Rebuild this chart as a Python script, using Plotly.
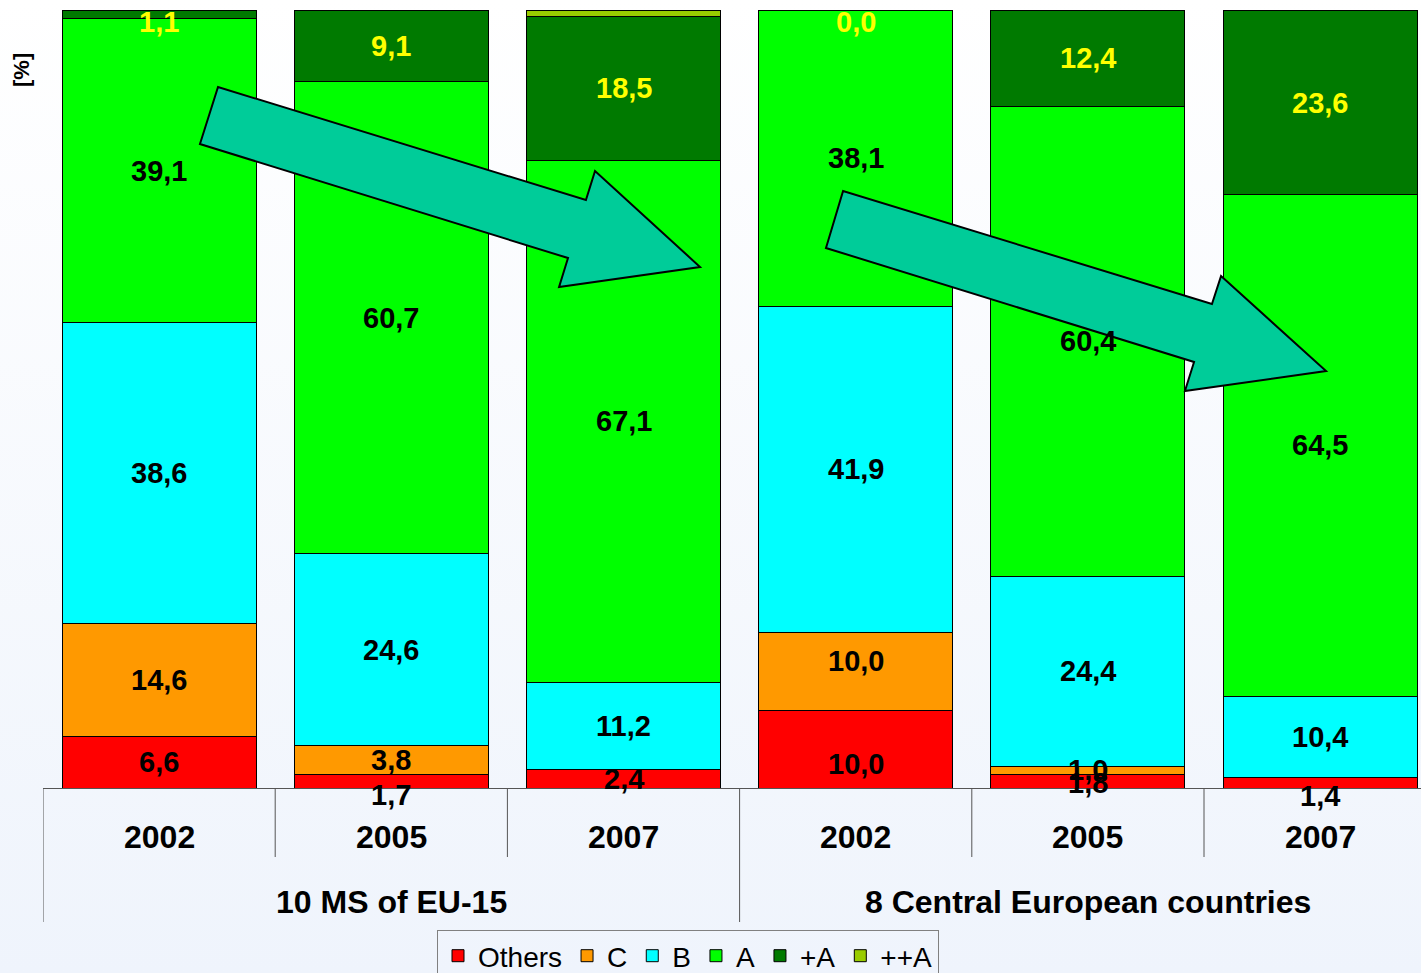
import base64
import plotly.graph_objects as go

# data (percent shares per energy class)
years = ["2002", "2005", "2007", "2002", "2005", "2007"]
groups = ["10 MS of EU-15", "8 Central European countries"]
others = [6.6, 1.7, 2.4, 10.0, 1.8, 1.4]
class_c = [14.6, 3.8, None, 10.0, 1.0, None]
class_b = [38.6, 24.6, 11.2, 41.9, 24.4, 10.4]
class_a = [39.1, 60.7, 67.1, 38.1, 60.4, 64.5]
class_plus_a = [1.1, 9.1, 18.5, 0.0, 12.4, 23.6]
class_pp_a = [0.0, 0.1, 0.8, 0.0, 0.0, 0.1]

series = [
    ("Others", others, "#FF0000", "black"),
    ("C", class_c, "#FF9900", "black"),
    ("B", class_b, "#00FFFF", "black"),
    ("A", class_a, "#00FF00", "black"),
    ("+A", class_plus_a, "#007A00", "#FFFF00"),
    ("++A", class_pp_a, "#99CC00", None),
]

# small vertical nudges (px) for labels Excel pushed off-centre
nudge = {(0, "+A"): -8, (3, "+A"): -12, (1, "Others"): -14, (5, "Others"): -13,
         (4, "Others"): -2, (3, "Others"): -15, (3, "C"): 10}

W, H = 1421, 973
L, R, T, B = 43, 0, 10, 185
PW, PH = W - L - R, H - T - B
FONT = "Arial, Liberation Sans, sans-serif"

xs = list(range(len(years)))
fig = go.Figure()
for name, vals, col, _ in series:
    fig.add_trace(go.Bar(
        x=xs, y=vals, name=name,
        marker=dict(color=col, line=dict(color="black", width=1)),
    ))


def px_x(p):
    return (p - L) / PW


def px_y(p):
    return (H - B - p) / PH


annotations = []
base = [0.0] * len(xs)
for name, vals, _, tcol in series:
    for i, v in enumerate(vals):
        if v is None:
            continue
        if tcol is not None:
            annotations.append(dict(
                x=i, y=base[i] + v / 2, xref="x", yref="y",
                text=f"{v:.1f}".replace(".", ","), showarrow=False,
                yshift=nudge.get((i, name), 0),
                font=dict(family=FONT, size=29, color=tcol, weight="bold"),
            ))
        base[i] += v

for i, yr in enumerate(years):
    annotations.append(dict(x=i, y=0, xref="x", yref="paper", yanchor="middle",
                            yshift=-49, text=yr, showarrow=False,
                            font=dict(family=FONT, size=32, color="black", weight="bold")))
for g, gx in zip(groups, [1, 4]):
    annotations.append(dict(x=gx, y=0, xref="x", yref="paper", yanchor="middle",
                            yshift=-114, text=g, showarrow=False,
                            font=dict(family=FONT, size=32, color="black", weight="bold")))
annotations.append(dict(x=px_x(22), y=px_y(70), xref="paper", yref="paper", text="[%]",
                        xanchor="center", yanchor="middle", textangle=-90, showarrow=False,
                        font=dict(family=FONT, size=22, color="black", weight="bold")))

shapes = []
for xv in [-0.5, 0.5, 1.5, 2.5, 3.5, 4.5]:
    low = 922 if xv in (-0.5, 2.5) else 857
    shapes.append(dict(type="line", xref="x", yref="paper", x0=xv, x1=xv,
                       y0=0, y1=px_y(low), line=dict(color="#555555", width=1)))

arrows = [
    [(218, 87), (200, 144), (568, 258), (559, 287), (700, 267), (595, 171), (586, 200)],
    [(843, 191), (826, 248), (1194, 362), (1185, 391), (1326, 371), (1221, 276), (1212, 304)],
]
for pts in arrows:
    path = "M " + " L ".join(f"{px_x(a):.4f},{px_y(b):.4f}" for a, b in pts) + " Z"
    shapes.append(dict(type="path", xref="paper", yref="paper", path=path,
                       fillcolor="#00CC99", line=dict(color="black", width=2)))

svg = ('<svg xmlns="http://www.w3.org/2000/svg" width="10" height="100" preserveAspectRatio="none">'
       '<defs><linearGradient id="g" x1="0" y1="0" x2="0" y2="1">'
       '<stop offset="0" stop-color="#ffffff"/><stop offset="1" stop-color="#eff4fc"/>'
       '</linearGradient></defs><rect width="10" height="100" fill="url(#g)"/></svg>')
bg = "data:image/svg+xml;base64," + base64.b64encode(svg.encode()).decode()

fig.update_layout(
    width=W, height=H, barmode="stack", bargap=0.165,
    margin=dict(l=L, r=R, t=T, b=B, autoexpand=False),
    paper_bgcolor="white", plot_bgcolor="rgba(0,0,0,0)",
    images=[dict(source=bg, xref="paper", yref="paper", x=-L / PW, y=1 + T / PH,
                 sizex=W / PW, sizey=H / PH, sizing="stretch", layer="below")],
    xaxis=dict(range=[-0.5, -0.5 + PW / 232.2], showticklabels=False, showgrid=False,
               zeroline=False, showline=True, linecolor="#555555", linewidth=1),
    yaxis=dict(range=[0, 100], visible=False),
    annotations=annotations, shapes=shapes,
    legend=dict(orientation="h", x=px_x(688), xanchor="center", y=px_y(930), yanchor="top",
                bgcolor="rgba(0,0,0,0)", bordercolor="#808080", borderwidth=1,
                font=dict(family=FONT, size=28, color="black"), traceorder="normal"),
    showlegend=True,
)

fig.write_html("out.html", config={"displayModeBar": False},
               post_script="document.body.style.margin='0';")
